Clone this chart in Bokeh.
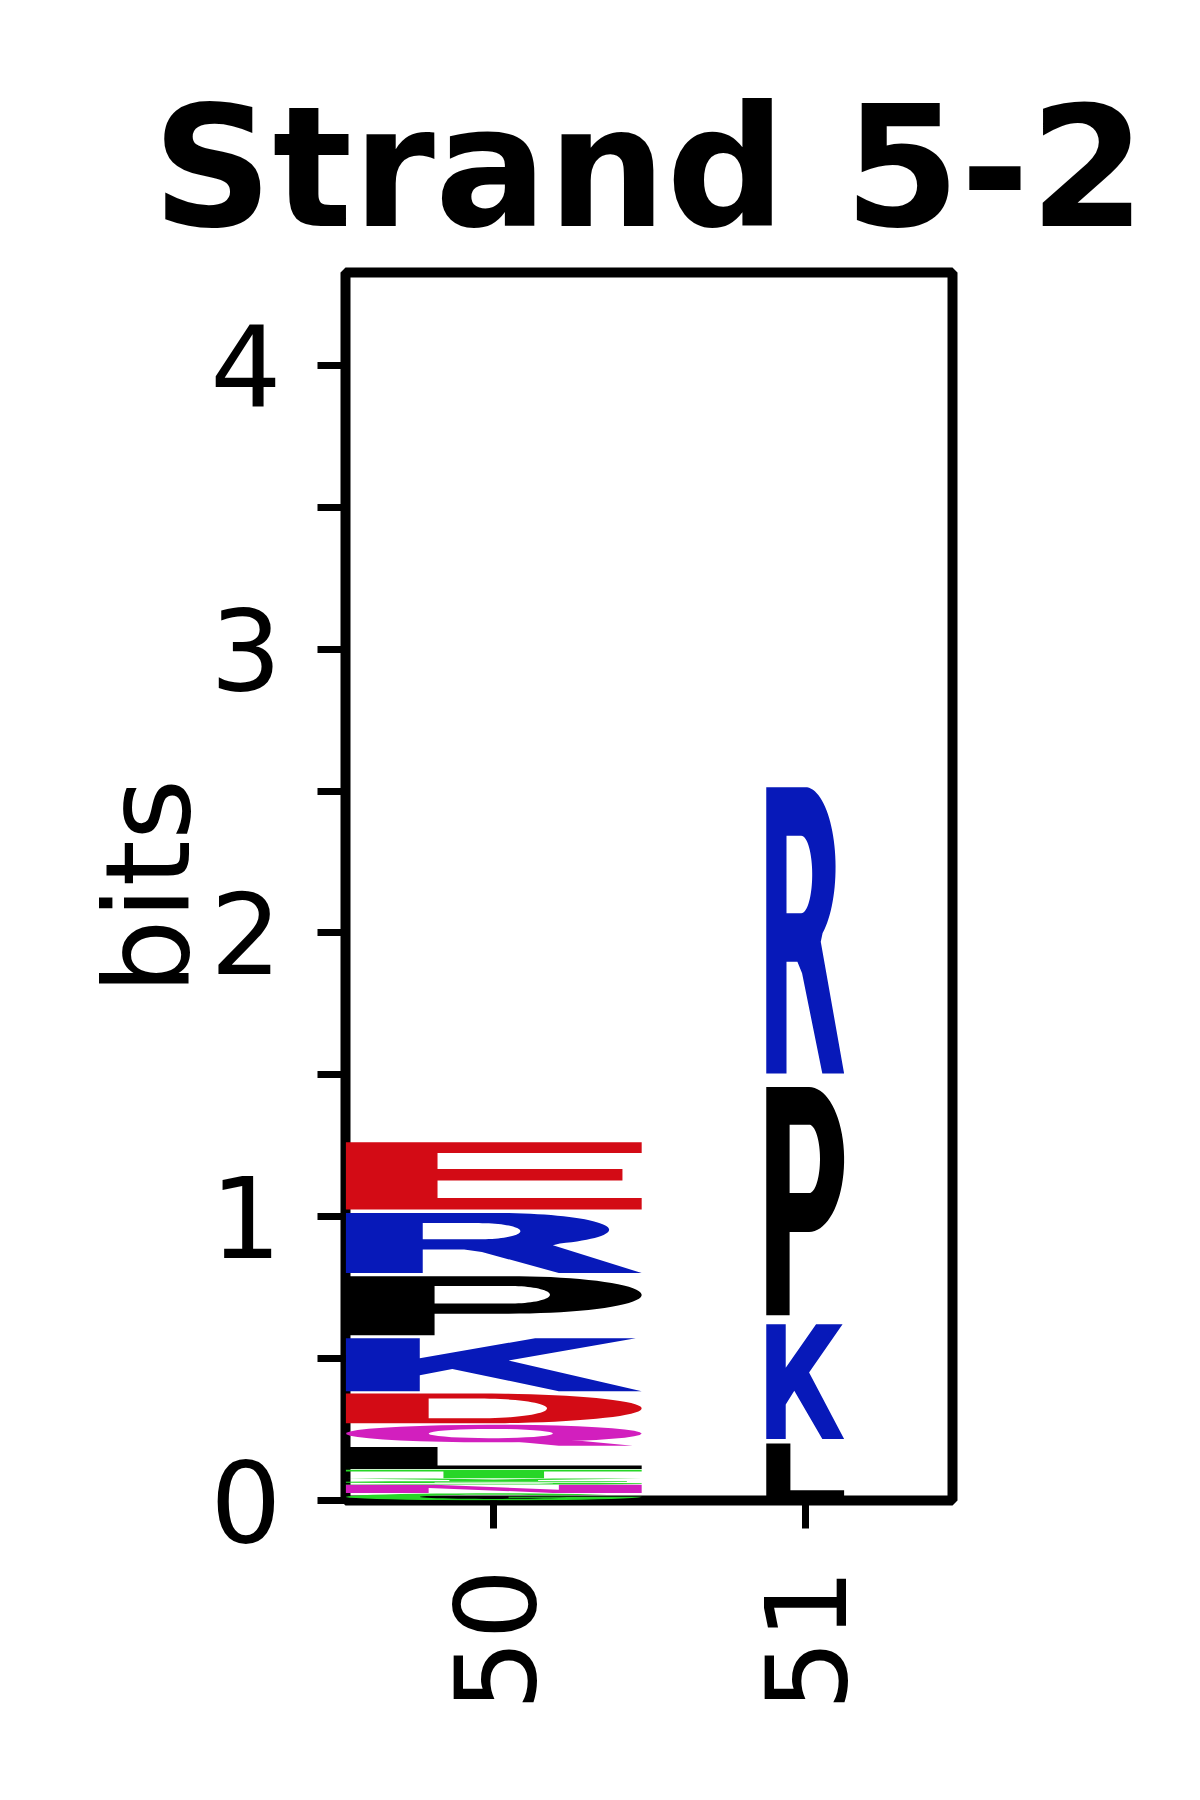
import numpy as np
from bokeh.plotting import figure
from bokeh.models import ColumnDataSource, FixedTicker, Range1d
from bokeh.embed import file_html
from bokeh.resources import INLINE

# ---------------- data ----------------
title_text = "Strand 5-2"
y_axis_label = "bits"
positions = [50, 51]
x_tick_labels = ["50", "51"]
# stacks listed bottom -> top
letters_pos50 = ["G", "N", "S", "Y", "T", "L", "Q", "D", "K", "P", "R", "E"]
heights_pos50 = [0.026, 0.030, 0.012, 0.010, 0.031, 0.082, 0.078, 0.111, 0.197, 0.219, 0.223, 0.250]
letters_pos51 = ["L", "K", "P", "R"]
heights_pos51 = [0.206, 0.426, 0.846, 1.062]
y_ticks = [0, 0.5, 1.0, 1.5, 2.0, 2.5, 3.0, 3.5, 4.0]
y_tick_labels = ["0", "", "1", "", "2", "", "3", "", "4"]

# ---------------- style ----------------
column_widths = [0.95, 0.25]
vpad = 0.05
RED, BLUE, MAG, GREEN, BLACK = "#d30b15", "#0719b9", "#d21fbe", "#27d627", "#000000"
letter_colors = {"E": RED, "D": RED, "R": BLUE, "K": BLUE, "P": BLACK, "L": BLACK,
                 "Q": MAG, "N": MAG, "G": GREEN, "S": GREEN, "T": GREEN, "Y": GREEN}


def arc(cx, cy, rx, ry, a0, a1, n=40):
    a = np.radians(np.linspace(a0, a1, n))
    return list(zip(cx + rx * np.cos(a), cy + ry * np.sin(a)))


# letter outlines in a unit box, y up: list of pieces, each piece = [outer, hole, ...]
glyphs = {
    "E": [[[(0, 0), (1, 0), (1, 0.17), (0.31, 0.17), (0.31, 0.43), (0.935, 0.43), (0.935, 0.60),
            (0.31, 0.60), (0.31, 0.84), (1, 0.84), (1, 1), (0, 1)]]],
    "L": [[[(0, 0), (1, 0), (1, 0.16), (0.31, 0.16), (0.31, 1), (0, 1)]]],
    "T": [[[(0.33, 0), (0.67, 0), (0.67, 0.8), (1, 0.8), (1, 1), (0, 1), (0, 0.8), (0.33, 0.8)]]],
    "N": [[[(0, 0), (0.28, 0), (0.28, 0.62), (0.70, 0), (1, 0), (1, 1), (0.72, 1), (0.72, 0.38),
            (0.30, 1), (0, 1)]]],
    "Y": [[[(0, 1), (0.3, 1), (0.5, 0.62), (0.7, 1), (1, 1), (0.65, 0.42), (0.65, 0), (0.35, 0),
            (0.35, 0.42)]]],
    "S": [[[(0, 0.12), (0.2, 0), (0.85, 0), (1, 0.15), (1, 0.42), (0.85, 0.55), (0.35, 0.6),
            (0.3, 0.65), (0.3, 0.75), (0.35, 0.8), (0.95, 0.8), (0.95, 1.0), (0.15, 1.0), (0, 0.88),
            (0, 0.58), (0.15, 0.45), (0.65, 0.4), (0.7, 0.35), (0.7, 0.25), (0.65, 0.2), (0, 0.2)]]],
    "G": [[arc(0.5, 0.5, 0.5, 0.5, 40, 355) + [(1, 0.5), (0.55, 0.5), (0.55, 0.35), (0.75, 0.35)]
           + arc(0.5, 0.5, 0.25, 0.3, 320, 40)]],
    "P": [[[(0, 0), (0.30, 0), (0.30, 0.365)] + arc(0.55, 0.6825, 0.45, 0.3175, -90, 90) + [(0, 1)],
           [(0.30, 0.535)] + arc(0.55, 0.685, 0.14, 0.15, -90, 90) + [(0.30, 0.835)]]],
    "R": [[[(0, 0), (0.26, 0), (0.26, 0.39), (0.40, 0.39), (0.46, 0.35), (0.72, 0), (1.0, 0),
            (0.70, 0.46)] + arc(0.5, 0.72, 0.39, 0.28, -55, 90) + [(0, 1)],
           [(0.26, 0.56)] + arc(0.45, 0.695, 0.14, 0.135, -90, 90) + [(0.26, 0.83)]]],
    "D": [[[(0, 0)] + arc(0.45, 0.5, 0.55, 0.5, -90, 90) + [(0, 1)],
           [(0.28, 0.17)] + arc(0.45, 0.5, 0.23, 0.33, -90, 90) + [(0.28, 0.83)]]],
    "Q": [[arc(0.5, 0.58, 0.5, 0.42, 0, 360), arc(0.49, 0.58, 0.21, 0.22, 0, 360)],
          [[(0.55, 0.22), (0.72, 0.0), (0.97, 0.0), (0.80, 0.22)]]],
    "K": [[[(0, 0), (0.25, 0), (0.25, 0.30), (0.36, 0.42), (0.72, 0), (1.0, 0), (0.55, 0.58),
            (0.98, 1), (0.64, 1), (0.25, 0.62), (0.25, 1), (0, 1)]]],
}

stacks = [(positions[0], column_widths[0], letters_pos50, heights_pos50),
          (positions[1], column_widths[1], letters_pos51, heights_pos51)]

xs, ys, cols = [], [], []
for pos, w, letters, heights in stacks:
    bottom = 0.0
    for let, h in zip(letters, heights):
        pad = h * vpad / 2
        y0, gh = bottom + pad, h - 2 * pad
        x0 = pos - w / 2
        for piece in glyphs[let]:
            rx, ry = [], []
            for ring in piece:
                r = np.array(ring, dtype=float)
                rx.append([float(v) for v in x0 + r[:, 0] * w])
                ry.append([float(v) for v in y0 + r[:, 1] * gh])
            xs.append([rx])
            ys.append([ry])
            cols.append(letter_colors[let])
        bottom += h

src = ColumnDataSource(dict(xs=xs, ys=ys, color=cols))

p = figure(width=1184, height=1714, output_backend="svg", toolbar_location=None,
           x_range=Range1d(49.524, 51.473), y_range=Range1d(0, 4.327),
           min_border_left=345, min_border_right=232, min_border_top=272, min_border_bottom=212)
p.multi_polygons(xs="xs", ys="ys", fill_color="color", line_color=None, source=src)

p.title.text = title_text
p.title.text_font = "DejaVu Sans"
p.title.text_font_style = "bold"
p.title.text_font_size = "167px"
p.title.text_color = "black"
p.title.align = "center"
p.title.standoff = 15

p.xgrid.visible = False
p.ygrid.visible = False
p.outline_line_color = "black"
p.outline_line_width = 10
p.background_fill_color = "white"
p.border_fill_color = "white"

for ax in (p.xaxis[0], p.yaxis[0]):
    ax.axis_line_color = None
    ax.major_tick_line_width = 7
    ax.major_tick_line_color = "black"
    ax.major_tick_out = 28
    ax.major_tick_in = 0
    ax.minor_tick_line_color = None
    ax.major_label_text_font = "DejaVu Sans"
    ax.major_label_text_font_size = "112px"
    ax.major_label_text_color = "black"

p.xaxis.ticker = FixedTicker(ticks=positions)
p.xaxis.major_label_overrides = {float(t): l for t, l in zip(positions, x_tick_labels)}
p.xaxis.major_label_orientation = np.pi / 2
p.xaxis.major_label_standoff = 40

p.yaxis.ticker = FixedTicker(ticks=y_ticks)
p.yaxis.major_label_overrides = {float(t): l for t, l in zip(y_ticks, y_tick_labels)}
p.yaxis.major_label_standoff = 36
p.yaxis.axis_label = y_axis_label
p.yaxis.axis_label_text_font = "DejaVu Sans"
p.yaxis.axis_label_text_font_style = "normal"
p.yaxis.axis_label_text_font_size = "118px"
p.yaxis.axis_label_text_color = "black"
p.yaxis.axis_label_standoff = -10

open("out.html", "w").write(file_html(p, INLINE))
